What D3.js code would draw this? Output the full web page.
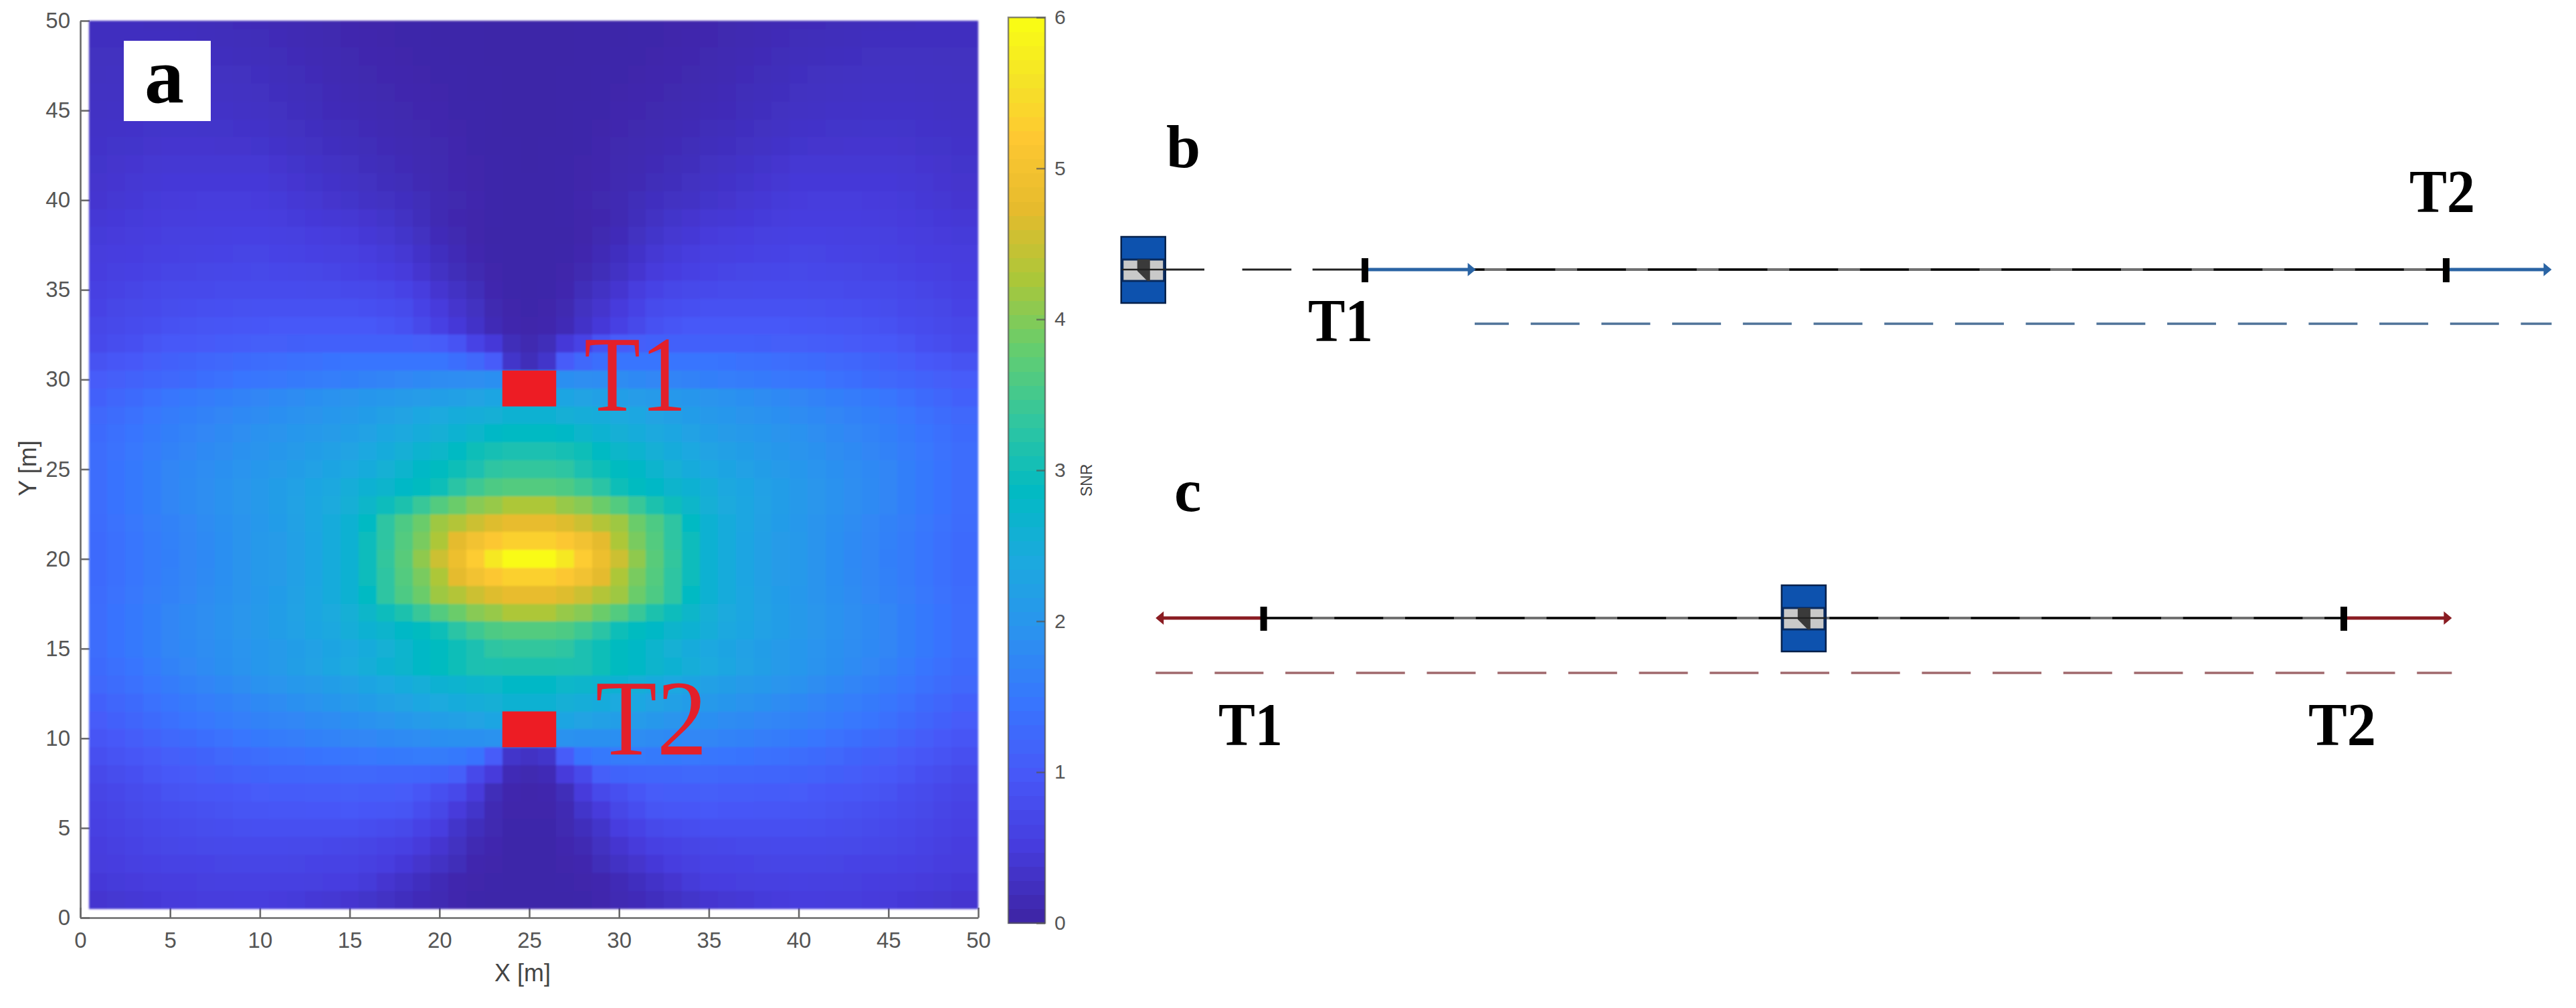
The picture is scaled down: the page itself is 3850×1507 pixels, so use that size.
<!DOCTYPE html>
<html>
<head>
<meta charset="utf-8">
<script src="https://cdn.jsdelivr.net/npm/d3@7"></script>
<style>
  html, body { margin: 0; padding: 0; background: #fff; }
  svg { display: block; }
</style>
</head>
<body>
<svg id="graph0" width="3850" height="1507"></svg>
<script>
var xTicks = [0, 5, 10, 15, 20, 25, 30, 35, 40, 45, 50];
var yTicks = [0, 5, 10, 15, 20, 25, 30, 35, 40, 45, 50];
var snrTicks = [0, 1, 2, 3, 4, 5, 6];

// parula colour stops
var parulaStops = ["#3E26A8", "#463CDE", "#4758F8", "#3875FE", "#2B92EF", "#1CA9DF", "#02BAC3", "#31C69F", "#64CD6F", "#ABC739", "#E6BB2D", "#FEC832", "#F5E327", "#F9FB15"];
var parulaPos = [0, 5, 10, 15, 20, 25, 30, 35, 40, 45, 50, 55, 59, 63];

// transmitters in panel a, metres
var targetNames = ["T1", "T2"];
var targetX = [25, 25];
var targetY = [29.5, 10.5];

// SNR, rows run from y = 50 down to y = 1, columns x = 1..50
var snrRows = [
[.19,.19,.19,.18,.18,.17,.16,.15,.14,.13,.11,.10,.08,.06,.04,.03,.03,.02,.02,.01,.01,.01,0,0,0,0,0,.01,.01,.01,.02,.02,.03,.03,.04,.06,.08,.10,.11,.13,.14,.15,.16,.17,.18,.18,.19,.19,.19,.19],
[.20,.20,.20,.20,.20,.19,.18,.17,.16,.15,.13,.11,.09,.07,.05,.04,.03,.02,.02,.01,.01,.01,0,0,0,0,0,.01,.01,.01,.02,.02,.03,.04,.05,.07,.09,.11,.13,.15,.16,.17,.18,.19,.20,.20,.20,.20,.20,.20],
[.21,.21,.22,.22,.22,.21,.20,.19,.18,.17,.15,.13,.11,.09,.07,.05,.04,.03,.02,.02,.01,.01,0,0,0,0,0,.01,.01,.02,.02,.03,.04,.05,.07,.09,.11,.13,.15,.17,.18,.19,.20,.21,.22,.22,.22,.21,.21,.21],
[.22,.23,.23,.24,.24,.24,.23,.22,.21,.20,.17,.15,.13,.10,.08,.06,.05,.04,.03,.02,.02,.01,.01,0,0,0,.01,.01,.02,.02,.03,.04,.05,.06,.08,.10,.13,.15,.17,.20,.21,.22,.23,.24,.24,.24,.23,.23,.22,.22],
[.24,.24,.25,.26,.26,.26,.25,.24,.23,.22,.19,.17,.15,.12,.10,.08,.06,.05,.04,.03,.02,.01,.01,0,0,0,.01,.01,.02,.03,.04,.05,.06,.08,.10,.12,.15,.17,.19,.22,.23,.24,.25,.26,.26,.26,.25,.24,.24,.24],
[.25,.26,.27,.28,.28,.28,.27,.27,.26,.25,.22,.19,.17,.14,.12,.10,.08,.06,.05,.04,.02,.02,.01,0,0,0,.01,.02,.02,.04,.05,.06,.08,.10,.12,.14,.17,.19,.22,.25,.26,.27,.27,.28,.28,.28,.27,.26,.25,.25],
[.27,.28,.29,.30,.31,.31,.30,.30,.29,.28,.25,.22,.20,.17,.15,.12,.10,.08,.06,.05,.03,.02,.01,0,0,0,.01,.02,.03,.05,.06,.08,.10,.12,.15,.17,.20,.22,.25,.28,.29,.30,.30,.31,.31,.30,.29,.28,.27,.27],
[.29,.30,.31,.33,.34,.34,.34,.33,.33,.32,.29,.26,.23,.20,.18,.15,.12,.10,.08,.06,.04,.02,.01,.01,0,.01,.01,.02,.04,.06,.08,.10,.12,.15,.18,.20,.23,.26,.29,.32,.33,.33,.34,.34,.34,.33,.31,.30,.29,.29],
[.31,.33,.35,.37,.38,.38,.38,.38,.38,.38,.34,.31,.28,.25,.22,.18,.15,.12,.09,.07,.04,.03,.02,.01,0,.01,.02,.03,.04,.07,.09,.12,.15,.18,.22,.25,.28,.31,.34,.38,.38,.38,.38,.38,.38,.37,.35,.33,.31,.31],
[.33,.35,.38,.40,.42,.42,.42,.42,.42,.42,.38,.35,.32,.29,.26,.22,.18,.15,.11,.08,.05,.03,.02,.01,.01,.01,.02,.03,.05,.08,.11,.15,.18,.22,.26,.29,.32,.35,.38,.42,.42,.42,.42,.42,.42,.40,.38,.35,.33,.33],
[.35,.38,.41,.43,.45,.46,.47,.47,.47,.46,.43,.40,.37,.33,.30,.26,.23,.20,.15,.10,.06,.04,.02,.01,.01,.01,.02,.04,.06,.10,.15,.20,.23,.26,.30,.33,.37,.40,.43,.46,.47,.47,.47,.46,.45,.43,.41,.38,.35,.35],
[.40,.42,.44,.46,.47,.48,.49,.50,.50,.50,.47,.44,.42,.40,.38,.34,.30,.24,.17,.10,.05,.03,.02,.01,.01,.01,.02,.03,.05,.10,.17,.24,.30,.34,.38,.40,.42,.44,.47,.50,.50,.50,.49,.48,.47,.46,.44,.42,.40,.40],
[.43,.45,.47,.50,.52,.53,.54,.55,.56,.56,.54,.52,.50,.47,.45,.41,.36,.30,.22,.14,.08,.03,.01,.01,.01,.01,.01,.03,.08,.14,.22,.30,.36,.41,.45,.47,.50,.52,.54,.56,.56,.55,.54,.53,.52,.50,.47,.45,.43,.43],
[.47,.49,.51,.54,.56,.57,.59,.60,.61,.62,.60,.58,.56,.54,.52,.48,.43,.38,.29,.20,.12,.05,.02,.01,.01,.01,.02,.05,.12,.20,.29,.38,.43,.48,.52,.54,.56,.58,.60,.62,.61,.60,.59,.57,.56,.54,.51,.49,.47,.47],
[.50,.53,.56,.59,.62,.63,.65,.66,.67,.68,.67,.66,.65,.63,.60,.56,.51,.45,.35,.25,.15,.08,.03,.01,.01,.01,.03,.08,.15,.25,.35,.45,.51,.56,.60,.63,.65,.66,.67,.68,.67,.66,.65,.63,.62,.59,.56,.53,.50,.50],
[.55,.59,.63,.67,.70,.71,.72,.73,.74,.75,.75,.75,.74,.73,.72,.70,.66,.60,.48,.35,.25,.15,.05,.02,.01,.02,.05,.15,.25,.35,.48,.60,.66,.70,.72,.73,.74,.75,.75,.75,.74,.73,.72,.71,.70,.67,.63,.59,.55,.55],
[.60,.64,.68,.72,.76,.78,.80,.82,.83,.84,.84,.84,.84,.84,.84,.82,.79,.74,.60,.46,.33,.22,.08,.03,.02,.03,.08,.22,.33,.46,.60,.74,.79,.82,.84,.84,.84,.84,.84,.84,.83,.82,.80,.78,.76,.72,.68,.64,.60,.60],
[.66,.70,.75,.79,.84,.86,.88,.90,.92,.94,.95,.96,.96,.97,.97,.95,.90,.84,.70,.56,.42,.28,.12,.04,.03,.04,.12,.28,.42,.56,.70,.84,.90,.95,.97,.97,.96,.96,.95,.94,.92,.90,.88,.86,.84,.79,.75,.70,.66,.66],
[.72,.77,.82,.88,.95,.97,.99,1.01,1.03,1.05,1.06,1.07,1.08,1.09,1.10,1.10,1.10,1.10,1.06,1.00,.86,.60,.42,.15,.08,.15,.42,.60,.86,1.00,1.06,1.10,1.10,1.10,1.10,1.09,1.08,1.07,1.06,1.05,1.03,1.01,.99,.97,.95,.88,.82,.77,.72,.72],
[.85,.91,.97,1.03,1.10,1.14,1.18,1.22,1.25,1.28,1.31,1.34,1.37,1.40,1.42,1.43,1.43,1.43,1.42,1.42,1.32,1.20,1.00,.30,.15,.30,1.00,1.20,1.32,1.42,1.42,1.43,1.43,1.43,1.42,1.40,1.37,1.34,1.31,1.28,1.25,1.22,1.18,1.14,1.10,1.03,.97,.91,.85,.85],
[1.00,1.05,1.11,1.16,1.22,1.27,1.32,1.37,1.41,1.45,1.48,1.51,1.54,1.57,1.60,1.64,1.68,1.72,1.76,1.80,1.82,1.84,1.85,1.9,1.9,1.9,1.85,1.84,1.82,1.80,1.76,1.72,1.68,1.64,1.60,1.57,1.54,1.51,1.48,1.45,1.41,1.37,1.32,1.27,1.22,1.16,1.11,1.05,1.00,1.00],
[1.10,1.18,1.26,1.35,1.45,1.50,1.55,1.60,1.65,1.70,1.75,1.80,1.85,1.90,1.95,1.99,2.03,2.07,2.11,2.15,2.20,2.25,2.30,2.35,2.35,2.35,2.30,2.25,2.20,2.15,2.11,2.07,2.03,1.99,1.95,1.90,1.85,1.80,1.75,1.70,1.65,1.60,1.55,1.50,1.45,1.35,1.26,1.18,1.10,1.10],
[1.20,1.28,1.37,1.46,1.55,1.60,1.65,1.70,1.75,1.80,1.85,1.90,1.95,2.00,2.05,2.12,2.19,2.26,2.33,2.40,2.46,2.50,2.55,2.60,2.60,2.60,2.55,2.50,2.46,2.40,2.33,2.26,2.19,2.12,2.05,2.00,1.95,1.90,1.85,1.80,1.75,1.70,1.65,1.60,1.55,1.46,1.37,1.28,1.20,1.20],
[1.25,1.33,1.42,1.51,1.60,1.66,1.72,1.78,1.84,1.90,1.95,2.00,2.05,2.10,2.15,2.23,2.31,2.39,2.47,2.55,2.62,2.72,2.80,2.85,2.85,2.85,2.80,2.72,2.62,2.55,2.47,2.39,2.31,2.23,2.15,2.10,2.05,2.00,1.95,1.90,1.84,1.78,1.72,1.66,1.60,1.51,1.42,1.33,1.25,1.25],
[1.30,1.38,1.47,1.56,1.65,1.71,1.77,1.83,1.89,1.95,2.01,2.07,2.13,2.19,2.25,2.35,2.45,2.55,2.65,2.75,2.85,3.00,3.05,3.10,3.10,3.10,3.05,3.00,2.85,2.75,2.65,2.55,2.45,2.35,2.25,2.19,2.13,2.07,2.01,1.95,1.89,1.83,1.77,1.71,1.65,1.56,1.47,1.38,1.30,1.30],
[1.30,1.40,1.50,1.60,1.70,1.76,1.82,1.88,1.94,2.00,2.07,2.14,2.21,2.28,2.35,2.45,2.57,2.69,2.80,2.90,3.00,3.10,3.30,3.35,3.35,3.35,3.30,3.10,3.00,2.90,2.80,2.69,2.57,2.45,2.35,2.28,2.21,2.14,2.07,2.00,1.94,1.88,1.82,1.76,1.70,1.60,1.50,1.40,1.30,1.30],
[1.30,1.40,1.50,1.60,1.70,1.77,1.84,1.91,1.98,2.05,2.13,2.21,2.29,2.37,2.50,2.60,2.70,2.80,2.90,3.00,3.25,3.45,3.60,3.65,3.65,3.65,3.60,3.45,3.25,3.00,2.90,2.80,2.70,2.60,2.50,2.37,2.29,2.21,2.13,2.05,1.98,1.91,1.84,1.77,1.70,1.60,1.50,1.40,1.30,1.30],
[1.30,1.40,1.50,1.60,1.70,1.77,1.84,1.91,1.98,2.05,2.14,2.23,2.32,2.42,2.55,2.75,2.95,3.15,3.40,3.65,3.85,4.05,4.15,4.30,4.30,4.30,4.15,4.05,3.85,3.65,3.40,3.15,2.95,2.75,2.55,2.42,2.32,2.23,2.14,2.05,1.98,1.91,1.84,1.77,1.70,1.60,1.50,1.40,1.30,1.30],
[1.28,1.38,1.48,1.58,1.65,1.73,1.80,1.87,1.95,2.02,2.12,2.22,2.32,2.45,2.60,2.85,3.30,3.60,3.85,4.20,4.35,4.55,4.70,4.80,4.80,4.80,4.70,4.55,4.35,4.20,3.85,3.60,3.30,2.85,2.60,2.45,2.32,2.22,2.12,2.02,1.95,1.87,1.80,1.73,1.65,1.58,1.48,1.38,1.28,1.28],
[1.25,1.35,1.45,1.55,1.62,1.70,1.77,1.85,1.95,2.05,2.10,2.20,2.30,2.45,2.60,2.95,3.30,3.65,3.95,4.30,4.75,5.00,5.20,5.35,5.35,5.35,5.20,5.00,4.75,4.30,3.95,3.65,3.30,2.95,2.60,2.45,2.30,2.20,2.10,2.05,1.95,1.85,1.77,1.70,1.62,1.55,1.45,1.35,1.25,1.25],
[1.25,1.35,1.45,1.55,1.60,1.70,1.75,1.85,1.95,2.05,2.10,2.20,2.30,2.45,2.60,2.95,3.35,3.70,4.10,4.55,4.90,5.30,5.70,6.0,6.0,6.0,5.70,5.30,4.90,4.55,4.10,3.70,3.35,2.95,2.60,2.45,2.30,2.20,2.10,2.05,1.95,1.85,1.75,1.70,1.60,1.55,1.45,1.35,1.25,1.25],
[1.25,1.35,1.45,1.55,1.62,1.70,1.77,1.85,1.95,2.05,2.10,2.20,2.30,2.45,2.60,2.95,3.30,3.65,3.95,4.30,4.75,5.00,5.20,5.35,5.35,5.35,5.20,5.00,4.75,4.30,3.95,3.65,3.30,2.95,2.60,2.45,2.30,2.20,2.10,2.05,1.95,1.85,1.77,1.70,1.62,1.55,1.45,1.35,1.25,1.25],
[1.28,1.38,1.48,1.58,1.65,1.73,1.80,1.87,1.95,2.02,2.12,2.22,2.32,2.45,2.60,2.85,3.30,3.60,3.85,4.20,4.35,4.55,4.70,4.80,4.80,4.80,4.70,4.55,4.35,4.20,3.85,3.60,3.30,2.85,2.60,2.45,2.32,2.22,2.12,2.02,1.95,1.87,1.80,1.73,1.65,1.58,1.48,1.38,1.28,1.28],
[1.30,1.40,1.50,1.60,1.70,1.77,1.84,1.91,1.98,2.05,2.14,2.23,2.32,2.42,2.55,2.75,2.95,3.15,3.40,3.65,3.85,4.05,4.15,4.30,4.30,4.30,4.15,4.05,3.85,3.65,3.40,3.15,2.95,2.75,2.55,2.42,2.32,2.23,2.14,2.05,1.98,1.91,1.84,1.77,1.70,1.60,1.50,1.40,1.30,1.30],
[1.30,1.40,1.50,1.60,1.70,1.77,1.84,1.91,1.98,2.05,2.13,2.21,2.29,2.37,2.50,2.60,2.70,2.80,2.90,3.00,3.25,3.45,3.60,3.65,3.65,3.65,3.60,3.45,3.25,3.00,2.90,2.80,2.70,2.60,2.50,2.37,2.29,2.21,2.13,2.05,1.98,1.91,1.84,1.77,1.70,1.60,1.50,1.40,1.30,1.30],
[1.30,1.40,1.50,1.60,1.70,1.76,1.82,1.88,1.94,2.00,2.07,2.14,2.21,2.28,2.35,2.45,2.57,2.69,2.80,2.90,3.00,3.10,3.30,3.35,3.35,3.35,3.30,3.10,3.00,2.90,2.80,2.69,2.57,2.45,2.35,2.28,2.21,2.14,2.07,2.00,1.94,1.88,1.82,1.76,1.70,1.60,1.50,1.40,1.30,1.30],
[1.25,1.33,1.42,1.53,1.65,1.72,1.79,1.86,1.93,2.00,2.08,2.16,2.24,2.32,2.40,2.50,2.60,2.70,2.80,2.90,3.00,3.10,3.12,3.15,3.15,3.15,3.12,3.10,3.00,2.90,2.80,2.70,2.60,2.50,2.40,2.32,2.24,2.16,2.08,2.00,1.93,1.86,1.79,1.72,1.65,1.53,1.42,1.33,1.25,1.25],
[1.20,1.28,1.37,1.46,1.55,1.62,1.69,1.76,1.83,1.90,1.96,2.02,2.08,2.14,2.20,2.28,2.36,2.44,2.52,2.60,2.66,2.72,2.76,2.80,2.80,2.80,2.76,2.72,2.66,2.60,2.52,2.44,2.36,2.28,2.20,2.14,2.08,2.02,1.96,1.90,1.83,1.76,1.69,1.62,1.55,1.46,1.37,1.28,1.20,1.20],
[1.10,1.18,1.27,1.36,1.45,1.51,1.57,1.63,1.69,1.75,1.81,1.87,1.93,1.99,2.05,2.12,2.19,2.26,2.33,2.40,2.45,2.50,2.55,2.60,2.60,2.60,2.55,2.50,2.45,2.40,2.33,2.26,2.19,2.12,2.05,1.99,1.93,1.87,1.81,1.75,1.69,1.63,1.57,1.51,1.45,1.36,1.27,1.18,1.10,1.10],
[1.00,1.08,1.17,1.26,1.35,1.41,1.47,1.53,1.59,1.65,1.69,1.73,1.77,1.81,1.85,1.91,1.97,2.03,2.09,2.15,2.20,2.25,2.30,2.35,2.35,2.35,2.30,2.25,2.20,2.15,2.09,2.03,1.97,1.91,1.85,1.81,1.77,1.73,1.69,1.65,1.59,1.53,1.47,1.41,1.35,1.26,1.17,1.08,1.00,1.00],
[.90,.97,1.04,1.12,1.20,1.26,1.32,1.38,1.44,1.50,1.54,1.58,1.62,1.66,1.70,1.73,1.76,1.79,1.82,1.85,1.87,1.88,1.90,1.90,1.90,1.90,1.90,1.88,1.87,1.85,1.82,1.79,1.76,1.73,1.70,1.66,1.62,1.58,1.54,1.50,1.44,1.38,1.32,1.26,1.20,1.12,1.04,.97,.90,.90],
[.80,.86,.92,.98,1.05,1.10,1.15,1.20,1.25,1.30,1.33,1.36,1.39,1.42,1.45,1.47,1.49,1.51,1.53,1.55,1.50,1.40,1.00,.30,.25,.30,1.00,1.40,1.50,1.55,1.53,1.51,1.49,1.47,1.45,1.42,1.39,1.36,1.33,1.30,1.25,1.20,1.15,1.10,1.05,.98,.92,.86,.80,.80],
[.70,.76,.82,.88,.95,.99,1.03,1.07,1.11,1.15,1.16,1.17,1.18,1.19,1.20,1.20,1.19,1.18,1.17,1.15,1.05,.70,.45,.12,.08,.12,.45,.70,1.05,1.15,1.17,1.18,1.19,1.20,1.20,1.19,1.18,1.17,1.16,1.15,1.11,1.07,1.03,.99,.95,.88,.82,.76,.70,.70],
[.62,.67,.73,.79,.85,.88,.91,.94,.97,1.00,1.01,1.02,1.03,1.04,1.05,1.04,1.03,1.00,.92,.80,.70,.45,.15,.04,.03,.04,.15,.45,.70,.80,.92,1.00,1.03,1.04,1.05,1.04,1.03,1.02,1.01,1.00,.97,.94,.91,.88,.85,.79,.73,.67,.62,.62],
[.58,.63,.68,.73,.78,.80,.83,.85,.88,.90,.91,.92,.93,.94,.95,.93,.91,.88,.78,.65,.45,.30,.10,.03,.03,.03,.10,.30,.45,.65,.78,.88,.91,.93,.95,.94,.93,.92,.91,.90,.88,.85,.83,.80,.78,.73,.68,.63,.58,.58],
[.55,.59,.63,.67,.72,.74,.76,.78,.80,.82,.82,.82,.82,.82,.82,.79,.75,.70,.60,.50,.30,.18,.08,.02,.02,.02,.08,.18,.30,.50,.60,.70,.75,.79,.82,.82,.82,.82,.82,.82,.80,.78,.76,.74,.72,.67,.63,.59,.55,.55],
[.50,.54,.58,.62,.65,.67,.68,.70,.71,.72,.71,.70,.69,.67,.65,.62,.59,.55,.45,.35,.22,.10,.05,.01,.01,.01,.05,.10,.22,.35,.45,.55,.59,.62,.65,.67,.69,.70,.71,.72,.71,.70,.68,.67,.65,.62,.58,.54,.50,.50],
[.47,.50,.53,.56,.58,.59,.60,.61,.62,.62,.62,.61,.60,.59,.58,.54,.50,.42,.33,.25,.15,.05,.03,.01,.01,.01,.03,.05,.15,.25,.33,.42,.50,.54,.58,.59,.60,.61,.62,.62,.62,.61,.60,.59,.58,.56,.53,.50,.47,.47],
[.42,.44,.46,.48,.50,.51,.52,.53,.54,.55,.54,.53,.52,.51,.50,.43,.35,.28,.20,.12,.05,.03,.02,.01,.01,.01,.02,.03,.05,.12,.20,.28,.35,.43,.50,.51,.52,.53,.54,.55,.54,.53,.52,.51,.50,.48,.46,.44,.42,.42],
[.35,.37,.40,.42,.45,.46,.47,.47,.48,.48,.46,.44,.41,.38,.35,.30,.25,.19,.14,.10,.04,.02,.01,.01,.01,.01,.01,.02,.04,.10,.14,.19,.25,.30,.35,.38,.41,.44,.46,.48,.48,.47,.47,.46,.45,.42,.40,.37,.35,.35]
];

// schematics b and c, along the track in metres with T1 at 0 and T2 at 20
var trackTargets = [0, 20];
var sensorB = -4.1;
var sensorC = 10;
var wireB = [[-3.99, -2.97], [-2.27, -1.36], [-0.97, 0]];
var arrowsB = [[0, 2.05], [20, 21.95]];
var dashB = [2.03, 21.95];
var arrowsC = [[0, -2], [20, 22]];
var dashC = [-2, 22];

var svg = d3.select("#graph0");
var SANS = "'Liberation Sans', Arial, sans-serif";
var SERIF = "'Liberation Serif', 'Times New Roman', serif";
var TICK = "#555";

var parula = d3.scaleLinear()
  .domain(parulaPos.map(function(p) { return p / 63 * 6; }))
  .range(parulaStops)
  .clamp(true);

// the reference is a soft raster, take the hard edge off the cells
var soft = svg.append("defs").append("filter")
  .attr("id", "soft")
  .attr("x", "-2%").attr("y", "-2%")
  .attr("width", "104%").attr("height", "104%");
soft.append("feGaussianBlur").attr("stdDeviation", 1.4);

drawPanelA();
drawColorbar();
drawTrack(403, 484, 2040, 3656, sensorB, wireB, arrowsB, dashB, "#2A64A4", "#4F7399", 22);
drawTrack(924, 1006, 1888.6, 3503, sensorC, [], arrowsC, dashC, "#8A1C22", "#A0686C", 17.5);

// letters and target names of the schematics
labelText("b", 1743, 250, 92, null);
labelText("T1", 1955, 510, 91, 97);
labelText("T2", 3601, 317, 91, 98);
labelText("c", 1755, 764, 91, null);
labelText("T1", 1821, 1114, 91, 96);
labelText("T2", 3450, 1114, 91, 101);

function labelText(t, x, y, size, len) {
  var el = svg.append("text")
    .attr("x", x)
    .attr("y", y)
    .attr("font-family", SERIF)
    .attr("font-weight", "bold")
    .attr("font-size", size)
    .attr("fill", "#000")
    .text(t);
  if (len) {
    el.attr("textLength", len).attr("lengthAdjust", "spacingAndGlyphs");
  }
}

function drawPanelA() {
  var x = d3.scaleLinear().domain([0, 50]).range([120, 1462]);
  var y = d3.scaleLinear().domain([0, 50]).range([1372, 31]);

  var axisX = svg.append("g")
    .attr("transform", "translate(0,1372)")
    .call(d3.axisBottom(x).tickValues(xTicks).tickSizeInner(-15).tickSizeOuter(0).tickPadding(22));
  var axisY = svg.append("g")
    .attr("transform", "translate(120,0)")
    .call(d3.axisLeft(y).tickValues(yTicks).tickSizeInner(-14).tickSizeOuter(0).tickPadding(15));

  [axisX, axisY].forEach(function(a) {
    a.selectAll("path, line").attr("stroke", "#6a6a6a").attr("stroke-width", 2.6);
    a.selectAll("text")
      .attr("font-family", SANS)
      .attr("font-size", 33)
      .attr("fill", TICK);
  });

  var cells = [];
  snrRows.forEach(function(row, i) {
    row.forEach(function(v, j) {
      cells.push({ cx: j + 1, cy: 50 - i, v: v });
    });
  });

  svg.append("g")
    .attr("filter", "url(#soft)")
    .selectAll("rect")
    .data(cells)
    .enter()
    .append("rect")
    .attr("shape-rendering", "crispEdges")
    .attr("x", function(d) { return x(d.cx - 0.5); })
    .attr("y", function(d) { return y(Math.min(50, d.cy + 0.5)); })
    .attr("width", function(d) { return x(Math.min(50, d.cx + 0.5)) - x(d.cx - 0.5); })
    .attr("height", function(d) { return y(d.cy - 0.5) - y(Math.min(50, d.cy + 0.5)); })
    .attr("fill", function(d) { return parula(d.v); });

  // red target squares, three cells wide and two tall
  svg.append("g")
    .selectAll("rect")
    .data(targetNames)
    .enter()
    .append("rect")
    .attr("x", function(d, i) { return x(targetX[i] - 1.5); })
    .attr("y", function(d, i) { return y(targetY[i] + 1); })
    .attr("width", x(3) - x(0))
    .attr("height", y(0) - y(2))
    .attr("fill", "#ED1C24");

  var nameX = [873, 890], nameY = [614, 1128], nameLen = [153, 167];
  targetNames.forEach(function(t, i) {
    svg.append("text")
      .attr("x", nameX[i])
      .attr("y", nameY[i])
      .attr("font-family", SERIF)
      .attr("font-size", 160)
      .attr("fill", "#E3202A")
      .attr("textLength", nameLen[i])
      .attr("lengthAdjust", "spacingAndGlyphs")
      .text(t);
  });

  // white letter box
  svg.append("rect")
    .attr("x", 185).attr("y", 61).attr("width", 130).attr("height", 120)
    .attr("fill", "#fff");
  svg.append("text")
    .attr("x", 216).attr("y", 153)
    .attr("font-family", SERIF)
    .attr("font-weight", "bold")
    .attr("font-size", 118)
    .text("a");

  svg.append("text")
    .attr("x", 781).attr("y", 1467)
    .attr("text-anchor", "middle")
    .attr("font-family", SANS)
    .attr("font-size", 36)
    .attr("fill", "#444")
    .text("X [m]");
  svg.append("text")
    .attr("transform", "translate(54,700) rotate(-90)")
    .attr("text-anchor", "middle")
    .attr("font-family", SANS)
    .attr("font-size", 36)
    .attr("fill", "#444")
    .text("Y [m]");
}

function drawColorbar() {
  var left = 1507, right = 1562;
  var c = d3.scaleLinear().domain([0, 6]).range([1380, 26]);
  var levels = d3.range(64);

  svg.append("g")
    .attr("shape-rendering", "crispEdges")
    .selectAll("rect")
    .data(levels)
    .enter()
    .append("rect")
    .attr("x", left)
    .attr("y", function(d) { return c((d + 1) / 64 * 6); })
    .attr("width", right - left)
    .attr("height", c(0) - c(6 / 64) + 0.6)
    .attr("fill", function(d) { return parula(d / 63 * 6); });

  svg.append("rect")
    .attr("x", left).attr("y", c(6))
    .attr("width", right - left).attr("height", c(0) - c(6))
    .attr("fill", "none")
    .attr("stroke", "#555")
    .attr("stroke-opacity", 0.7)
    .attr("stroke-width", 2.5);

  var axis = svg.append("g")
    .attr("transform", "translate(" + right + ",0)")
    .call(d3.axisRight(c).tickValues(snrTicks).tickFormat(d3.format("d")).tickSizeInner(-13).tickSizeOuter(0).tickPadding(14));
  axis.select("path").remove();
  axis.selectAll("line").attr("stroke", "#555").attr("stroke-opacity", 0.7).attr("stroke-width", 2.5);
  axis.selectAll("text")
    .attr("font-family", SANS)
    .attr("font-size", 30)
    .attr("fill", TICK);

  svg.append("text")
    .attr("transform", "translate(1632,718) rotate(-90)")
    .attr("text-anchor", "middle")
    .attr("font-family", SANS)
    .attr("font-size", 23)
    .attr("fill", "#444")
    .text("SNR");
}

function drawTrack(yLine, yDash, x0, x1, sensorAt, wire, arrows, dash, arrowCol, dashCol, dashOffset) {
  var t = d3.scaleLinear().domain(trackTargets).range([x0, x1]);

  // grey track with black dashes on top
  svg.append("line")
    .attr("x1", t(0)).attr("x2", t(20)).attr("y1", yLine).attr("y2", yLine)
    .attr("stroke", "#707070").attr("stroke-width", 4);
  svg.append("line")
    .attr("x1", t(0)).attr("x2", t(20)).attr("y1", yLine).attr("y2", yLine)
    .attr("stroke", "#0c0c0c").attr("stroke-width", 3.5)
    .attr("stroke-dasharray", "73,32.7");

  wire.forEach(function(w) {
    svg.append("line")
      .attr("x1", t(w[0])).attr("x2", t(w[1])).attr("y1", yLine).attr("y2", yLine)
      .attr("stroke", "#222").attr("stroke-width", 3);
  });

  // arrows going out past the targets, wide enough to cover the track below
  arrows.forEach(function(a) {
    var dir = a[1] > a[0] ? 1 : -1;
    var tip = t(a[1]);
    svg.append("line")
      .attr("x1", t(a[0])).attr("x2", tip - dir * 8).attr("y1", yLine).attr("y2", yLine)
      .attr("stroke", arrowCol).attr("stroke-width", 5);
    svg.append("path")
      .attr("d", "M" + tip + "," + yLine + "L" + (tip - dir * 12) + "," + (yLine - 10) + "L" + (tip - dir * 12) + "," + (yLine + 10) + "Z")
      .attr("fill", arrowCol);
  });

  // target ticks
  trackTargets.forEach(function(d) {
    svg.append("rect")
      .attr("x", t(d) - 5).attr("y", yLine - 17)
      .attr("width", 10).attr("height", 36)
      .attr("fill", "#000");
  });

  // reflected path
  svg.append("line")
    .attr("x1", t(dash[0])).attr("x2", t(dash[1])).attr("y1", yDash).attr("y2", yDash)
    .attr("stroke", dashCol).attr("stroke-width", 3.5)
    .attr("stroke-dasharray", "73,32.7")
    .attr("stroke-dashoffset", dashOffset);

  // sensor
  var cx = t(sensorAt);
  var s = svg.append("g").attr("transform", "translate(" + cx + "," + yLine + ")");
  s.append("rect").attr("x", -33).attr("y", -49).attr("width", 66).attr("height", 99)
    .attr("fill", "#0D52AE").attr("stroke", "#06204a").attr("stroke-width", 2.5);
  s.append("rect").attr("x", -31).attr("y", -15).attr("width", 62).attr("height", 32)
    .attr("fill", "#c9c9c9").attr("stroke", "#082a5e").attr("stroke-width", 3);
  s.append("path")
    .attr("d", "M-9,-15L10,-15L10,17L6,17L-9,2Z")
    .attr("fill", "#3a3a3a");
  s.append("line")
    .attr("x1", -32).attr("x2", 33).attr("y1", 0).attr("y2", 0)
    .attr("stroke", "#222").attr("stroke-width", 2.5);
}
</script>
</body>
</html>
